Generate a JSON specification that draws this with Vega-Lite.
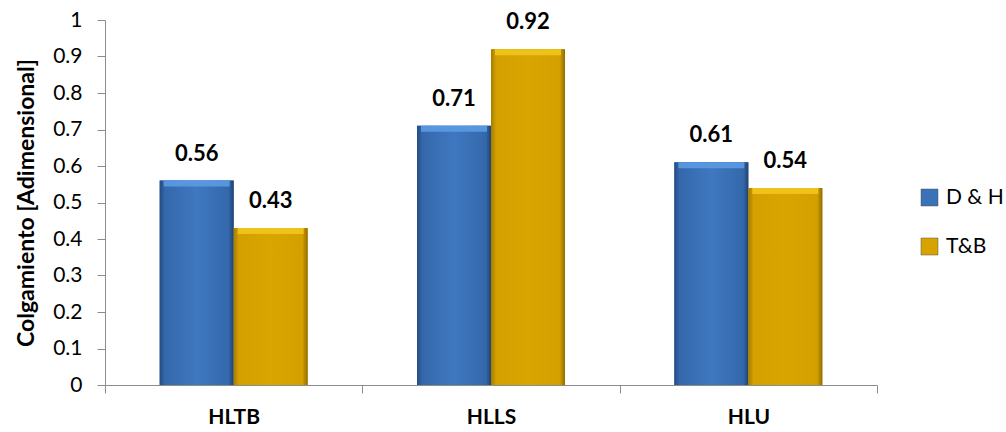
{
  "$schema": "https://vega.github.io/schema/vega-lite/v6.json",
  "width": 772,
  "height": 365,
  "autosize": "none",
  "padding": {"left": 105, "top": 20, "right": 129, "bottom": 47},
  "background": "white",
  "config": {
    "font": "Lato",
    "view": {"stroke": null},
    "axis": {"grid": false, "domainColor": "#8c8c8c", "tickColor": "#8c8c8c", "labelColor": "#000000", "titleColor": "#000000"}
  },
  "data": {
    "values": [
      {"category": "HLTB", "series": "D & H", "value": 0.56},
      {"category": "HLTB", "series": "T&B", "value": 0.43},
      {"category": "HLLS", "series": "D & H", "value": 0.71},
      {"category": "HLLS", "series": "T&B", "value": 0.92},
      {"category": "HLU", "series": "D & H", "value": 0.61},
      {"category": "HLU", "series": "T&B", "value": 0.54}
    ]
  },
  "encoding": {
    "x": {
      "field": "category",
      "type": "nominal",
      "sort": ["HLTB", "HLLS", "HLU"],
      "scale": {"paddingInner": 0, "paddingOuter": 0},
      "axis": {
        "title": null,
        "labelAngle": 0,
        "labelFontWeight": "bold",
        "labelFontSize": 21,
        "tickBand": "extent",
        "tickSize": 8,
        "labelPadding": 13
      }
    },
    "xOffset": {
      "field": "series",
      "type": "nominal",
      "sort": ["D & H", "T&B"],
      "scale": {"domain": ["D & H", "T&B"], "paddingInner": 0, "paddingOuter": 0.739}
    },
    "y": {
      "field": "value",
      "type": "quantitative",
      "scale": {"domain": [0, 1]},
      "axis": {
        "title": "Colgamiento [Adimensional]",
        "titleFontSize": 23,
        "titleFontWeight": "bold",
        "titlePadding": 14,
        "labelFontSize": 21,
        "labelPadding": 15,
        "tickSize": 8,
        "values": [0, 0.1, 0.2, 0.3, 0.4, 0.5, 0.6, 0.7, 0.8, 0.9, 1],
        "format": "~g"
      }
    }
  },
  "layer": [
    {
      "mark": {"type": "bar"},
      "encoding": {
        "color": {
          "field": "series",
          "type": "nominal",
          "sort": ["D & H", "T&B"],
          "scale": {"domain": ["D & H", "T&B"], "range": ["#3a72b8", "#d6a300"]},
          "legend": {
            "title": null,
            "orient": "none",
            "legendX": 814,
            "legendY": 167,
            "symbolType": "square",
            "symbolSize": 289,
            "symbolStrokeColor": "#555555",
            "symbolStrokeWidth": 0.5,
            "symbolOpacity": 1,
            "labelFontSize": 21,
            "labelColor": "#000000",
            "labelOffset": 6,
            "rowPadding": 27
          }
        }
      }
    },
    {
      "mark": {"type": "bar"},
      "encoding": {
        "fill": {
          "condition": {
            "test": "datum.series === 'D & H'",
            "value": {"gradient": "linear", "x1": 0, "y1": 0, "x2": 1, "y2": 0, "stops": [
              {"offset": 0, "color": "#244b80"},
              {"offset": 0.07, "color": "#3468ab"},
              {"offset": 0.5, "color": "#3f78c0"},
              {"offset": 0.93, "color": "#3468ab"},
              {"offset": 1, "color": "#20426f"}
            ]}
          },
          "value": {"gradient": "linear", "x1": 0, "y1": 0, "x2": 1, "y2": 0, "stops": [
            {"offset": 0, "color": "#a57d00"},
            {"offset": 0.07, "color": "#d3a000"},
            {"offset": 0.5, "color": "#d9a500"},
            {"offset": 0.93, "color": "#d3a000"},
            {"offset": 1, "color": "#8f6c00"}
          ]}
        }
      }
    },
    {
      "mark": {"type": "tick", "thickness": 6, "size": 66, "yOffset": 3, "opacity": 0.9},
      "encoding": {
        "color": {
          "condition": {"test": "datum.series === 'D & H'", "value": "#5b9be3"},
          "value": "#f2c51c"
        }
      }
    },
    {
      "mark": {"type": "text", "dy": -27, "fontSize": 22, "fontWeight": "bold", "color": "#000000"},
      "encoding": {
        "text": {"field": "value", "type": "quantitative", "format": ".2f"}
      }
    }
  ]
}
